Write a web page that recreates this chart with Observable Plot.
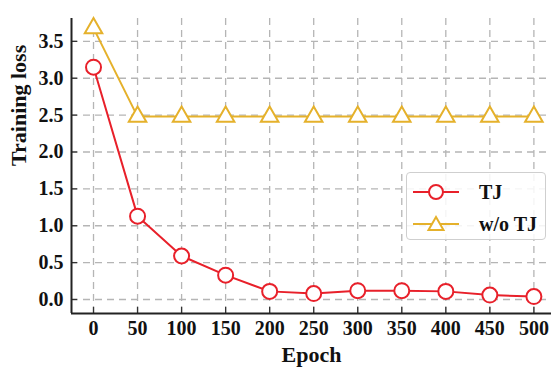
<!DOCTYPE html>
<html><head><meta charset="utf-8">
<script src="https://cdn.jsdelivr.net/npm/d3@7"></script>
<script src="https://cdn.jsdelivr.net/npm/@observablehq/plot@0.6"></script>
<style>
html,body{margin:0;padding:0;background:#fff;}
#wrap{position:relative;width:551px;height:372px;font-family:"Liberation Serif","DejaVu Serif",serif;}
#wrap svg text{font-family:"Liberation Serif",serif !important;font-weight:bold !important;}
#legend{position:absolute;left:406px;top:172px;width:140px;height:68px;border:1.5px solid #cfcfcf;border-radius:4px;background:rgba(255,255,255,0.85);box-sizing:border-box;}
.item{position:absolute;left:6px;display:flex;align-items:center;font-weight:bold;font-size:20px;color:#111;}
.item span{margin-left:20px;}
</style></head>
<body><div id="wrap"><div id="legend"></div></div>
<script>
const epochs = [0, 50, 100, 150, 200, 250, 300, 350, 400, 450, 500];
const tjLoss = [3.15, 1.13, 0.59, 0.33, 0.11, 0.08, 0.12, 0.12, 0.11, 0.06, 0.04];
const woTjLoss = [3.68, 2.48, 2.48, 2.48, 2.48, 2.48, 2.48, 2.48, 2.48, 2.48, 2.48];
const yTicks = [0, 0.5, 1.0, 1.5, 2.0, 2.5, 3.0, 3.5];
const seriesNames = ["TJ", "w/o TJ"];
const colors = ["#e8202a", "#e5b12b"];

const tj = epochs.map((e, i) => ({epoch: e, loss: tjLoss[i]}));
const wo = epochs.map((e, i) => ({epoch: e, loss: woTjLoss[i]}));
const xDom = [-25, 520];
const yDom = [-0.19, 3.81];
const grid = {stroke: "#b5b5b5", strokeWidth: 1.3, strokeDasharray: "7,5"};
const ff = "Liberation Serif";

const chart = Plot.plot({
  width: 551, height: 372,
  marginLeft: 71, marginRight: 0, marginTop: 18, marginBottom: 59,
  style: {fontFamily: ff, fontSize: "20px", fontWeight: "bold", color: "#111", background: "#fff"},
  x: {domain: xDom, ticks: epochs},
  y: {domain: yDom, ticks: yTicks},
  marks: [
    Plot.ruleX(epochs, {...grid}),
    Plot.ruleY(yTicks, {...grid}),
    Plot.axisX(epochs, {tickSize: -6, tickPadding: 13, tickFormat: d => String(d), fontSize: 20, fontWeight: "bold", fontFamily: ff, strokeWidth: 1.3, stroke: "#333", label: null}),
    Plot.axisY(yTicks, {tickSize: -6, tickPadding: 14, tickFormat: d => d.toFixed(1), fontSize: 20, fontWeight: "bold", fontFamily: ff, strokeWidth: 1.3, stroke: "#333", label: null}),
    Plot.ruleX([xDom[0]], {stroke: "#222", strokeWidth: 2}),
    Plot.ruleY([yDom[0]], {stroke: "#222", strokeWidth: 2}),
    Plot.line(wo, {x: "epoch", y: "loss", stroke: colors[1], strokeWidth: 2}),
    Plot.dot(wo, {x: "epoch", y: "loss", symbol: "triangle", r: 6.5, stroke: colors[1], strokeWidth: 2, fill: "white"}),
    Plot.line(tj, {x: "epoch", y: "loss", stroke: colors[0], strokeWidth: 2}),
    Plot.dot(tj, {x: "epoch", y: "loss", symbol: "circle", r: 7.5, stroke: colors[0], strokeWidth: 2, fill: "white"}),
    Plot.text(["Epoch"], {frameAnchor: "bottom", dy: 48, fontSize: 22, fontWeight: "bold", fontFamily: ff}),
    Plot.text(["Training loss"], {frameAnchor: "left", dx: -53, rotate: -90, fontSize: 22, fontWeight: "bold", fontFamily: ff})
  ]
});
document.getElementById("wrap").prepend(chart);

const legend = document.getElementById("legend");
seriesNames.forEach((name, i) => {
  const it = document.createElement("div");
  it.className = "item";
  it.style.top = (i === 0 ? 7 : 39) + "px";
  const sym = i === 0
    ? `<circle cx="23" cy="12" r="7" fill="white" stroke="${colors[0]}" stroke-width="2"/>`
    : `<path d="M23,5 L30.5,18 L15.5,18 Z" fill="white" stroke="${colors[1]}" stroke-width="2"/>`;
  it.innerHTML = `<svg width="46" height="24"><line x1="0" x2="46" y1="12" y2="12" stroke="${colors[i]}" stroke-width="2"/>${sym}</svg><span>${name}</span>`;
  legend.appendChild(it);
});
</script></body></html>
